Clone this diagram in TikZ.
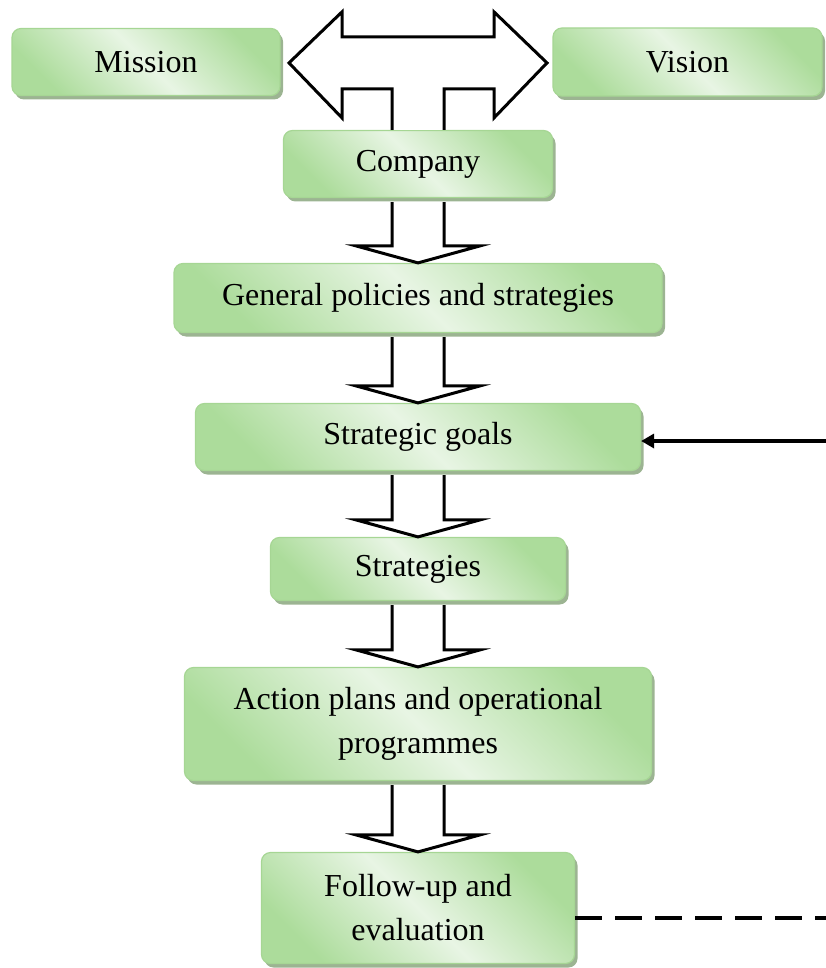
\documentclass[tikz,border=0pt]{standalone}
\usepackage{fontspec}
\setmainfont{Liberation Serif}
\usepackage{tikz}
\usepackage{xcolor}
\usetikzlibrary{arrows.meta, positioning, shadows}

\definecolor{boxgreen}{RGB}{172,220,155}
\definecolor{boxlight}{RGB}{232,245,228}
\definecolor{boxborder}{RGB}{166,214,148}
\definecolor{shadowgreen}{RGB}{156,180,146}

\tikzset{
    stepbox/.style={
        rectangle,
        rounded corners=9pt,
        draw=boxborder,
        line width=1.2pt,
        top color=boxgreen,
        bottom color=boxgreen,
        middle color=boxlight,
        shading angle=-45, % band from top left to bottom right
        drop shadow={shadow xshift=3pt, shadow yshift=-4pt, fill=shadowgreen, opacity=1},
        align=center,
        inner sep=0pt,
        font=\fontsize{32}{44}\selectfont
    },
    blockarrow/.style={
        draw=black,
        fill=white,
        line width=3pt,
        miter limit=20
    },
    feedback/.style={-{Triangle[length=13pt, width=14pt]}, line width=4pt},
    followline/.style={line width=4pt, dash pattern=on 27pt off 13pt}
}

\begin{document}
\begin{tikzpicture}[x=1pt, y=-1pt]

    \useasboundingbox (0,0) rectangle (826,968);

    \node[stepbox, minimum width=268pt, minimum height=67pt] (mission) at (146,62) {Mission};
    \node[stepbox, minimum width=269pt, minimum height=68pt] (vision) at (687.5,62) {Vision};
    \node[stepbox, minimum width=269pt, minimum height=67pt] (company) at (418,164) {Company};
    \node[stepbox, minimum width=488pt, minimum height=69pt] (general) at (418,298) {General policies and strategies};
    \node[stepbox, minimum width=445pt, minimum height=67pt] (goals) at (418,437) {Strategic goals};
    \node[stepbox, minimum width=295pt, minimum height=63pt] (strategies) at (418,569) {Strategies};
    \node[stepbox, minimum width=467pt, minimum height=113pt] (action) at (418,724) {Action plans and operational\\programmes};
    \node[stepbox, minimum width=313pt, minimum height=111pt] (followup) at (418,908) {Follow-up and\\evaluation};

    % mission <-> vision, with the company below
    \draw[blockarrow]
        ([xshift=-26pt]company.north) -- ++(0,-41) -- ++(-50,0) -- ++(0,29)
        -- ++(-53,-55) -- ++(53,-51) -- ++(0,25) -- ++(152,0) -- ++(0,-25)
        -- ++(53,51) -- ++(-53,55) -- ++(0,-29) -- ++(-50,0)
        -- ([xshift=26pt]company.north);

    \draw[blockarrow]
        ([xshift=-26pt, yshift=-4pt]company.south) -- ([xshift=-26pt, yshift=17pt]general.north)
        -- ++(-36,0) -- (general.north) -- ++(62,-17) -- ++(-36,0)
        -- ([xshift=26pt, yshift=-4pt]company.south);

    \draw[blockarrow]
        ([xshift=-26pt, yshift=-4pt]general.south) -- ([xshift=-26pt, yshift=17pt]goals.north)
        -- ++(-36,0) -- (goals.north) -- ++(62,-17) -- ++(-36,0)
        -- ([xshift=26pt, yshift=-4pt]general.south);

    \draw[blockarrow]
        ([xshift=-26pt, yshift=-4pt]goals.south) -- ([xshift=-26pt, yshift=17pt]strategies.north)
        -- ++(-36,0) -- (strategies.north) -- ++(62,-17) -- ++(-36,0)
        -- ([xshift=26pt, yshift=-4pt]goals.south);

    \draw[blockarrow]
        ([xshift=-26pt, yshift=-4pt]strategies.south) -- ([xshift=-26pt, yshift=17pt]action.north)
        -- ++(-36,0) -- (action.north) -- ++(62,-17) -- ++(-36,0)
        -- ([xshift=26pt, yshift=-4pt]strategies.south);

    \draw[blockarrow]
        ([xshift=-26pt, yshift=-4pt]action.south) -- ([xshift=-26pt, yshift=17pt]followup.north)
        -- ++(-36,0) -- (followup.north) -- ++(62,-17) -- ++(-36,0)
        -- ([xshift=26pt, yshift=-4pt]action.south);

    % lines coming in from the right edge
    \coordinate (goalsin) at (826,441);
    \coordinate (followout) at (826,918);

    \draw[feedback] (goalsin) -- (goals.east |- goalsin);

    \draw[followline] (followup.east |- followout) -- (followout);

\end{tikzpicture}
\end{document}
